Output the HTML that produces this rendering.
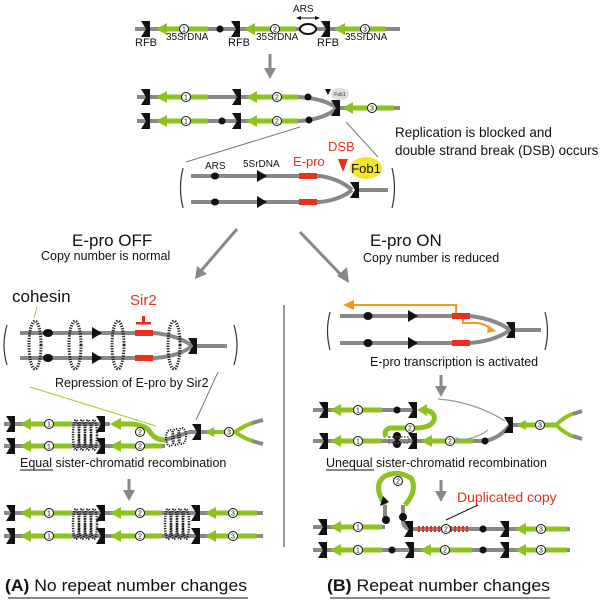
<!DOCTYPE html>
<html><head><meta charset="utf-8"><style>
html,body{margin:0;padding:0;background:#fff}
svg{display:block}
text{font-family:"Liberation Sans",sans-serif}
</style></head><body>
<svg width="609" height="601" viewBox="0 0 609 601" xmlns="http://www.w3.org/2000/svg">
<defs>
<g id="rfb"><polygon points="-5,-8 4,-8 4,8 -5,8 0,0" fill="#111"/></g>
<g id="ga"><polygon points="0,0 11,-6 11,-2.5 52,-2.5 52,2.5 11,2.5 11,6" fill="#8dc21f"/></g>
<g id="tri"><polygon points="-5,-6 5,0 -5,6" fill="#111"/></g>
<g id="coh"><ellipse cx="0" cy="0" rx="6" ry="24" fill="none" stroke="#222" stroke-width="3" stroke-dasharray="1.3 1.3"/></g>
<g id="cl"><ellipse cx="0" cy="0" rx="3" ry="15" fill="none" stroke="#222" stroke-width="2.5" stroke-dasharray="1.2 1.2"/></g>
</defs>
<g stroke="#888" stroke-width="4" fill="none">
<line x1="135" y1="29" x2="400" y2="29"/>
<path d="M137,97 H300 Q325,99 337,108"/>
<path d="M137,121 H300 Q325,119 337,108"/>
<line x1="340" y1="108" x2="400" y2="108"/>
<path d="M191,176 H320 Q340,179 352,190"/>
<path d="M191,202 H320 Q340,200 352,190"/>
<line x1="355" y1="190" x2="388" y2="190"/>
<path d="M20,333 H155 Q180,336 192,346"/>
<path d="M20,358 H155 Q180,356 192,346"/>
<line x1="195" y1="346" x2="227" y2="346"/>
<path d="M340,316 H470 Q495,319 510,330"/>
<path d="M340,343 H470 Q495,341 510,330"/>
<line x1="512" y1="330" x2="541" y2="330"/>
<line x1="4" y1="424" x2="110" y2="424"/>
<line x1="4" y1="446" x2="165" y2="446"/>
<path d="M165,440 L190,432 H235"/>
<line x1="4" y1="513" x2="263" y2="513"/>
<line x1="4" y1="536" x2="263" y2="536"/>
<line x1="313" y1="410" x2="413" y2="410"/>
<line x1="313" y1="441" x2="475" y2="441"/>
<path d="M475,441 H485 Q500,438 510,425 H556"/>
<line x1="313" y1="527" x2="385" y2="527"/>
<path d="M385,522 V505"/>
<path d="M403,505 V522 Q404,528 410,529"/>
<line x1="410" y1="529" x2="570" y2="529"/>
<line x1="313" y1="550" x2="570" y2="550"/>
</g>
<g fill="none" stroke-width="4">
<path d="M235,432 Q245,425 253,423" stroke="#8dc21f"/>
<path d="M235,432 Q245,439 253,441" stroke="#8dc21f"/>
<path d="M252,423 L263,420 M252,441 L263,444" stroke="#888"/>
<path d="M556,425 Q565,416 575,413" stroke="#8dc21f"/>
<path d="M556,425 Q565,434 575,437" stroke="#8dc21f"/>
<path d="M573,414 L582,411 M573,436 L582,439" stroke="#888"/>
<path d="M128,424 Q145,424 150,432 Q155,440 165,440" stroke="#8dc21f" stroke-width="5"/>
<path d="M425,410 Q436,412 434,420 Q431,428 415,428 H390 Q383,430 386,437" stroke="#8dc21f" stroke-width="5"/>
<path d="M385,505 Q372,485 385,476 Q398,470 411,478 Q418,490 405,505" stroke="#8dc21f" stroke-width="5"/>
</g>
<polygon points="417,410 427,404 427,416" fill="#8dc21f"/>
<g>
<use href="#ga" x="156" y="29"/><use href="#ga" x="244" y="29"/><use href="#ga" x="334" y="29"/>
<use href="#ga" x="156" y="97"/><use href="#ga" x="246" y="97"/>
<use href="#ga" x="156" y="121"/><use href="#ga" x="246" y="121"/>
<use href="#ga" x="342" y="108"/>
<use href="#ga" x="20" y="424"/><use href="#ga" x="20" y="446"/><use href="#ga" x="110" y="446"/>
<use href="#ga" x="20" y="513"/><use href="#ga" x="20" y="536"/>
<use href="#ga" x="110" y="513"/><use href="#ga" x="110" y="536"/>
<use href="#ga" x="205" y="513"/><use href="#ga" x="205" y="536"/>
<use href="#ga" x="330" y="410"/><use href="#ga" x="330" y="441"/><use href="#ga" x="421" y="441"/>
<use href="#ga" x="330" y="527"/><use href="#ga" x="330" y="550"/><use href="#ga" x="420" y="550"/>
<use href="#ga" x="515" y="529"/><use href="#ga" x="515" y="550"/>
</g>
<polygon points="205,432 214,427 214,430 235,430 235,434 214,434 214,437" fill="#8dc21f"/>
<polygon points="110,424 121,418 121,421.5 130,421.5 130,426.5 121,426.5 121,430" fill="#8dc21f"/>
<polygon points="516,425 526,420 526,422.5 556,422.5 556,427.5 526,427.5 526,430" fill="#8dc21f"/>
<line x1="418" y1="529" x2="470" y2="529" stroke="#e8301c" stroke-width="6" stroke-dasharray="2 2"/>
<g>
<use href="#rfb" x="146" y="29"/><use href="#rfb" x="236" y="29"/><use href="#rfb" x="326" y="29"/>
<use href="#rfb" x="146" y="97"/><use href="#rfb" x="237" y="97"/>
<use href="#rfb" x="146" y="121"/><use href="#rfb" x="237" y="121"/>
<use href="#rfb" x="336" y="108"/>
<use href="#rfb" x="355" y="190"/>
<use href="#rfb" x="193" y="346"/>
<use href="#rfb" x="511" y="330"/>
<use href="#rfb" x="11" y="424"/><use href="#rfb" x="11" y="446"/>
<use href="#rfb" x="101" y="424"/><use href="#rfb" x="101" y="446"/>
<use href="#rfb" x="197" y="432"/>
<use href="#rfb" x="11" y="513"/><use href="#rfb" x="11" y="536"/>
<use href="#rfb" x="101" y="513"/><use href="#rfb" x="101" y="536"/>
<use href="#rfb" x="196" y="513"/><use href="#rfb" x="196" y="536"/>
<use href="#rfb" x="324" y="410"/><use href="#rfb" x="324" y="441"/>
<use href="#rfb" x="413" y="410"/><use href="#rfb" x="413" y="441"/>
<use href="#rfb" x="509" y="425"/>
<use href="#rfb" x="323" y="527"/><use href="#rfb" x="323" y="550"/>
<use href="#rfb" x="409" y="529"/><use href="#rfb" x="410" y="550"/>
<use href="#rfb" x="505" y="529"/><use href="#rfb" x="505" y="550"/>
<polygon points="383,496 389,502 380,506" fill="#111"/>
</g>
<g fill="#111">
<circle cx="220" cy="29" r="3.5"/>
<circle cx="222" cy="121" r="3.5"/><circle cx="308" cy="97" r="3.5"/><circle cx="309" cy="120" r="3.5"/>
<ellipse cx="215" cy="176" rx="4" ry="3.5"/><ellipse cx="215" cy="202" rx="4" ry="3.5"/>
<ellipse cx="48" cy="333" rx="5" ry="4"/><ellipse cx="48" cy="358" rx="5" ry="4"/>
<ellipse cx="368" cy="316" rx="4.5" ry="4"/><ellipse cx="368" cy="343" rx="4.5" ry="4"/>
<circle cx="397" cy="410" r="3.5"/><circle cx="397" cy="436" r="4"/><circle cx="397" cy="444" r="4"/><circle cx="485" cy="441" r="3.5"/>
<circle cx="386" cy="520" r="4"/><circle cx="403" cy="517" r="4"/><circle cx="483" cy="529" r="3.5"/>
<circle cx="392" cy="550" r="3.5"/><circle cx="483" cy="550" r="3.5"/>
</g>
<use href="#tri" x="262" y="176"/><use href="#tri" x="262" y="202"/>
<use href="#tri" x="97" y="333"/><use href="#tri" x="97" y="358"/>
<use href="#tri" x="413" y="316"/><use href="#tri" x="413" y="343"/>
<polygon points="325,89 331,89 328,95" fill="#111"/>
<g fill="#e8301c">
<rect x="299" y="173" width="18" height="6"/><rect x="299" y="199" width="18" height="6"/>
<rect x="135" y="330" width="18" height="6"/><rect x="135" y="355" width="18" height="6"/>
<rect x="452" y="313" width="18" height="6"/><rect x="452" y="340" width="18" height="6"/>
<polygon points="338,159 348,159 343,172"/>
<rect x="142" y="316" width="3" height="7"/><rect x="136" y="322" width="15" height="2.5"/>
</g>
<ellipse cx="308" cy="29" rx="8" ry="5" fill="#fff" stroke="#111" stroke-width="2"/>
<line x1="298" y1="18" x2="318" y2="18" stroke="#111" stroke-width="1"/>
<polygon points="296,18 301,16 301,20" fill="#111"/><polygon points="320,18 315,16 315,20" fill="#111"/>
<ellipse cx="340" cy="94" rx="9" ry="6" fill="#ddd"/>
<text x="340" y="96" font-size="5" text-anchor="middle" fill="#333">Fob1</text>
<ellipse cx="366" cy="168" rx="16" ry="11" fill="#f5e52a"/>
<text x="366" y="173" font-size="13" text-anchor="middle" fill="#111">Fob1</text>
<use href="#coh" x="35" y="345"/><use href="#coh" x="75" y="345"/><use href="#coh" x="118" y="345"/><use href="#coh" x="174" y="345"/>
<g>
<use href="#cl" x="76" y="435"/><use href="#cl" x="82" y="435"/><use href="#cl" x="88" y="435"/><use href="#cl" x="94" y="435"/>
<use href="#cl" x="76" y="524"/><use href="#cl" x="82" y="524"/><use href="#cl" x="88" y="524"/><use href="#cl" x="94" y="524"/>
<use href="#cl" x="168" y="524"/><use href="#cl" x="174" y="524"/><use href="#cl" x="180" y="524"/><use href="#cl" x="186" y="524"/>
<ellipse cx="170" cy="438" rx="4" ry="8" fill="none" stroke="#222" stroke-width="2" stroke-dasharray="1.2 1.2"/>
<ellipse cx="176" cy="437" rx="4" ry="8" fill="none" stroke="#222" stroke-width="2" stroke-dasharray="1.2 1.2"/>
<ellipse cx="182" cy="436" rx="4" ry="8" fill="none" stroke="#222" stroke-width="2" stroke-dasharray="1.2 1.2"/>
<rect x="389" y="437" width="20" height="6" fill="none" stroke="#555" stroke-width="1.5" stroke-dasharray="1.5 1.5"/>
</g>
<g fill="none" stroke="#f39a1e" stroke-width="2">
<path d="M352,305 H456 V313"/>
<path d="M463,319 V323 H478 Q488,325 492,330"/>
</g>
<polygon points="343,305 354,300 354,310" fill="#f39a1e"/>
<polygon points="496,331 488,325 487,333" fill="#f39a1e"/>
<path d="M505,421 Q475,402 438,399" fill="none" stroke="#999" stroke-width="1.2"/>
<path d="M488,430 Q475,440 455,440" fill="none" stroke="#999" stroke-width="1.2"/>
<polygon points="452,440 458,437 458,443" fill="#999"/>
<g font-size="7" text-anchor="middle" fill="#111">
<g fill="#fff" stroke="#111" stroke-width="1">
<circle cx="184" cy="29" r="4.5"/><circle cx="275" cy="29" r="4.5"/><circle cx="365" cy="29" r="4.5"/>
<circle cx="186" cy="97" r="4.5"/><circle cx="277" cy="97" r="4.5"/>
<circle cx="186" cy="121" r="4.5"/><circle cx="277" cy="121" r="4.5"/><circle cx="372" cy="108" r="4.5"/>
<circle cx="49" cy="424" r="4.5"/><circle cx="49" cy="446" r="4.5"/><circle cx="140" cy="432" r="4.5"/><circle cx="140" cy="446" r="4.5"/><circle cx="229" cy="432" r="4.5"/>
<circle cx="49" cy="513" r="4.5"/><circle cx="49" cy="536" r="4.5"/><circle cx="140" cy="513" r="4.5"/><circle cx="140" cy="536" r="4.5"/><circle cx="233" cy="513" r="4.5"/><circle cx="233" cy="536" r="4.5"/>
<circle cx="358" cy="410" r="4.5"/><circle cx="358" cy="441" r="4.5"/><circle cx="410" cy="428" r="4.5"/><circle cx="450" cy="441" r="4.5"/><circle cx="540" cy="425" r="4.5"/>
<circle cx="398" cy="481" r="4.5"/><circle cx="358" cy="527" r="4.5"/><circle cx="446" cy="529" r="4.5"/><circle cx="541" cy="529" r="4.5"/>
<circle cx="358" cy="550" r="4.5"/><circle cx="445" cy="550" r="4.5"/><circle cx="541" cy="550" r="4.5"/>
</g>
<text x="184" y="31.5">1</text><text x="275" y="31.5">2</text><text x="365" y="31.5">3</text>
<text x="186" y="99.5">1</text><text x="277" y="99.5">2</text><text x="186" y="123.5">1</text><text x="277" y="123.5">2</text><text x="372" y="110.5">3</text>
<text x="49" y="426.5">1</text><text x="49" y="448.5">1</text><text x="140" y="434.5">2</text><text x="140" y="448.5">2</text><text x="229" y="434.5">3</text>
<text x="49" y="515.5">1</text><text x="49" y="538.5">1</text><text x="140" y="515.5">2</text><text x="140" y="538.5">2</text><text x="233" y="515.5">3</text><text x="233" y="538.5">3</text>
<text x="358" y="412.5">1</text><text x="358" y="443.5">1</text><text x="410" y="430.5">2</text><text x="450" y="443.5">2</text><text x="540" y="427.5">3</text>
<text x="398" y="483.5">2</text><text x="358" y="529.5">1</text><text x="446" y="531.5">2</text><text x="541" y="531.5">3</text>
<text x="358" y="552.5">1</text><text x="445" y="552.5">2</text><text x="541" y="552.5">3</text>
</g>
<g stroke="#777" stroke-width="1" fill="none">
<line x1="300" y1="127" x2="186" y2="162"/>
<line x1="346" y1="122" x2="378" y2="157"/>
<line x1="218" y1="372" x2="196" y2="420"/>
<line x1="446" y1="520" x2="478" y2="505" stroke="#111"/>
</g>
<line x1="30" y1="387" x2="156" y2="426" stroke="#9cd02a" stroke-width="1"/>
<line x1="37" y1="307" x2="34" y2="318" stroke="#9cd02a" stroke-width="1"/>
<g fill="none" stroke="#333" stroke-width="1.2">
<path d="M183,168 Q178,188 183,208"/><path d="M392,168 Q397,188 392,208"/>
<path d="M7,325 Q1,345 7,365"/><path d="M234,325 Q240,345 234,365"/>
<path d="M330,312 Q325,331 330,350"/><path d="M545,312 Q550,331 545,350"/>
</g>
<line x1="284" y1="305" x2="284" y2="547" stroke="#555" stroke-width="1.2"/>
<g stroke="#888" stroke-width="3" fill="none">
<line x1="270" y1="54" x2="270" y2="70"/>
<line x1="237" y1="229" x2="200" y2="272"/>
<line x1="300" y1="232" x2="344" y2="278"/>
<line x1="441" y1="375" x2="441" y2="388"/>
<line x1="129" y1="479" x2="129" y2="492"/>
<line x1="441" y1="480" x2="441" y2="493"/>
</g>
<g fill="#888">
<polygon points="264,68 276,68 270,79"/>
<polygon points="195,279 197,266 207,274"/>
<polygon points="349,283 337,276 347,267"/>
<polygon points="435,386 447,386 441,397"/>
<polygon points="123,490 135,490 129,501"/>
<polygon points="435,491 447,491 441,502"/>
</g>
<g fill="#111">
<text x="293" y="12" font-size="10">ARS</text>
<text x="135" y="46" font-size="11">RFB</text><text x="166" y="40" font-size="10">35SrDNA</text>
<text x="228" y="46" font-size="11">RFB</text><text x="256" y="40" font-size="10">35SrDNA</text>
<text x="317" y="46" font-size="11">RFB</text><text x="345" y="40" font-size="10">35SrDNA</text>
<text x="395" y="137" font-size="13.5">Replication is blocked and</text>
<text x="395" y="155" font-size="13.5">double strand break (DSB) occurs</text>
<text x="205" y="169" font-size="10">ARS</text>
<text x="243" y="167" font-size="10">5SrDNA</text>
<text x="72" y="246" font-size="17">E-pro OFF</text>
<text x="41" y="260" font-size="12.5">Copy number is normal</text>
<text x="370" y="246" font-size="17">E-pro ON</text>
<text x="363" y="262" font-size="12.5">Copy number is reduced</text>
<text x="12" y="302" font-size="17">cohesin</text>
<text x="55" y="387" font-size="12.5">Repression of E-pro by Sir2</text>
<text x="20" y="467" font-size="12.5">Equal sister-chromatid recombination</text>
<text x="370" y="366" font-size="12.5">E-pro transcription is activated</text>
<text x="326" y="467" font-size="12.5">Unequal sister-chromatid recombination</text>
<text x="5" y="591" font-size="17" textLength="242" lengthAdjust="spacingAndGlyphs"><tspan font-weight="bold">(A)</tspan> No repeat number changes</text>
<text x="327" y="591" font-size="17" textLength="223" lengthAdjust="spacingAndGlyphs"><tspan font-weight="bold">(B)</tspan> Repeat number changes</text>
</g>
<g fill="#e8301c">
<text x="293" y="166" font-size="13">E-pro</text>
<text x="328" y="151" font-size="13">DSB</text>
<text x="130" y="305" font-size="15">Sir2</text>
<text x="457" y="502" font-size="14">Duplicated copy</text>
</g>
<g stroke="#111" stroke-width="1">
<line x1="20" y1="470" x2="53" y2="470"/>
<line x1="326" y1="470" x2="374" y2="470"/>
<line x1="8" y1="598" x2="248" y2="598"/>
<line x1="330" y1="598" x2="550" y2="598"/>
</g>
</svg>
</body></html>
